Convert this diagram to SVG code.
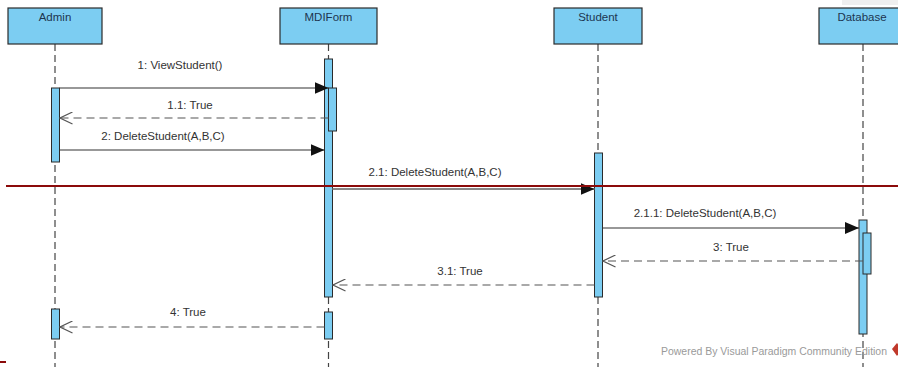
<svg xmlns="http://www.w3.org/2000/svg" width="898" height="367" viewBox="0 0 898 367">
<defs>
<style>
.head{fill:#7ccdf2;stroke:#2b2b2b;stroke-width:1.2}
.htxt{font-family:"Liberation Sans",Arial,sans-serif;font-size:11.5px;fill:#1c3550;text-anchor:middle}
.life{stroke:#444;stroke-width:1.2;stroke-dasharray:7 4;fill:none}
.act{fill:#7ccdf2;stroke:#2b2b2b;stroke-width:1}
.msg{stroke:#333;stroke-width:1.2;fill:none}
.ret{stroke:#555;stroke-width:1.2;stroke-dasharray:8 5;fill:none}
.lbl{font-family:"Liberation Sans",Arial,sans-serif;font-size:11.5px;fill:#333;text-anchor:middle}
</style>
<marker id="fill" markerWidth="15" markerHeight="13" refX="14" refY="6.5" orient="auto" markerUnits="userSpaceOnUse">
<path d="M0,0.5 L14,6.5 L0,12.5 Z" fill="#111"/>
</marker>
<marker id="open" markerWidth="15" markerHeight="13" refX="13.5" refY="6.5" orient="auto" markerUnits="userSpaceOnUse">
<path d="M1,0.5 L13.5,6.5 L1,12.5" fill="none" stroke="#555" stroke-width="1.2"/>
</marker>
</defs>
<rect width="898" height="367" fill="#fff"/>
<rect x="842" y="0" width="56" height="5" fill="#efefef"/>

<g id="lifelines">
<line class="life" x1="55" y1="44" x2="55" y2="367"/>
<line class="life" x1="328.5" y1="44" x2="328.5" y2="367"/>
<line class="life" x1="598" y1="44" x2="598" y2="367"/>
<line class="life" x1="863" y1="44" x2="863" y2="367"/>
</g>

<g id="Admin">
<rect class="head" x="8" y="8" width="94" height="36"/>
<text class="htxt" x="55" y="21">Admin</text>
<rect class="act" x="51.5" y="88" width="8" height="74"/>
<rect class="act" x="51.5" y="309" width="8" height="30"/>
</g>

<g id="MDIForm">
<rect class="head" x="280" y="8" width="97" height="36"/>
<text class="htxt" x="328.5" y="21">MDIForm</text>
<rect class="act" x="324.5" y="59" width="8" height="238"/>
<rect class="act" x="328.5" y="88" width="8" height="43"/>
<rect class="act" x="324.5" y="312" width="8" height="27"/>
</g>

<g id="Student">
<rect class="head" x="554" y="8" width="88" height="36"/>
<text class="htxt" x="598" y="21">Student</text>
<rect class="act" x="594.5" y="153" width="8" height="144"/>
</g>

<g id="Database">
<rect class="head" x="819" y="8" width="88" height="36"/>
<text class="htxt" x="862" y="21">Database</text>
<rect class="act" x="859" y="220" width="8" height="114"/>
<rect class="act" x="863" y="233" width="8" height="41"/>
</g>

<g id="connectors">
<line class="msg" x1="59.5" y1="88" x2="328.5" y2="88" marker-end="url(#fill)"/>
<text class="lbl" x="180" y="69">1: ViewStudent()</text>
<line class="ret" x1="328.5" y1="118" x2="60" y2="118" marker-end="url(#open)"/>
<text class="lbl" x="190" y="109">1.1: True</text>
<line class="msg" x1="59.5" y1="150" x2="324.5" y2="150" marker-end="url(#fill)"/>
<text class="lbl" x="163" y="140">2: DeleteStudent(A,B,C)</text>
<line x1="332.5" y1="189" x2="594.5" y2="189" stroke="#888" stroke-width="2" marker-end="url(#fill)"/>
<text class="lbl" x="435" y="176">2.1: DeleteStudent(A,B,C)</text>
<line class="msg" x1="602.5" y1="228" x2="859" y2="228" marker-end="url(#fill)"/>
<text class="lbl" x="705" y="217">2.1.1: DeleteStudent(A,B,C)</text>
<line class="ret" x1="863" y1="261" x2="603" y2="261" marker-end="url(#open)"/>
<text class="lbl" x="731" y="251">3: True</text>
<line class="ret" x1="594.5" y1="285" x2="333" y2="285" marker-end="url(#open)"/>
<text class="lbl" x="460" y="275">3.1: True</text>
<line class="ret" x1="324.5" y1="327" x2="60" y2="327" marker-end="url(#open)"/>
<text class="lbl" x="188" y="316">4: True</text>
</g>

<line x1="6" y1="186" x2="898" y2="186" stroke="#8b0a0a" stroke-width="2"/>
<line x1="0" y1="362" x2="6" y2="362" stroke="#8b0a0a" stroke-width="2"/>

<text x="661" y="355" font-family="&quot;Liberation Sans&quot;,Arial,sans-serif" font-size="10px" fill="#9a9a9a" textLength="226" lengthAdjust="spacingAndGlyphs">Powered By  Visual Paradigm Community Edition</text>
<polygon points="897,343 892,349 897,356 902,349" fill="#c0392b"/>
</svg>
